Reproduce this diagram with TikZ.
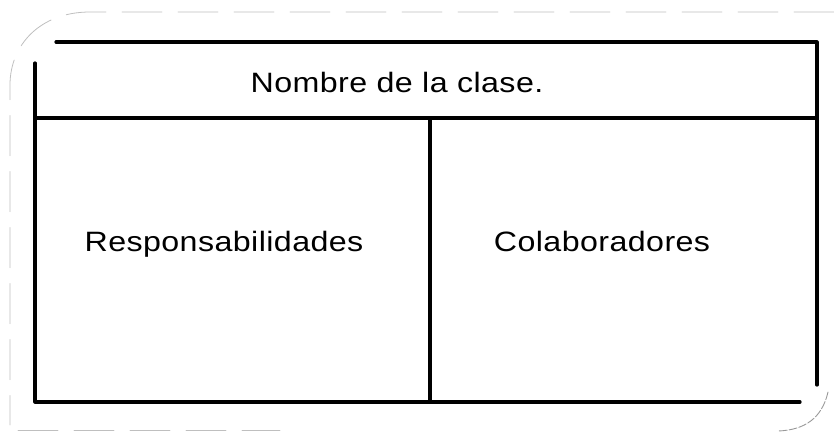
\documentclass[tikz,border=0pt]{standalone}
\usepackage{fontspec}
\setmainfont{Liberation Sans}[FakeStretch=1.15, LetterSpace=1.5]
\usetikzlibrary{positioning}

\tikzset{
  cardline/.style={line width=3.2pt},
  scanline/.style={gray!50, line width=0.8pt, dash pattern=on 40pt off 16pt},
  cardtext/.style={font=\fontsize{28}{30}\selectfont, anchor=base, inner sep=0pt}
}

\begin{document}
\begin{tikzpicture}[line cap=round,line join=round, x=1pt,y=-1pt]
\useasboundingbox (0,0) rectangle (834,432);
% faint outline of the scanned card
\draw [scanline] (834,12) -- (90,12) .. controls (40,12) and (10,45) .. (10,85) -- (10,425);
\draw [scanline] (18,430) -- (280,430);
\draw [gray!80, line width=0.9pt, dash pattern=on 8pt off 2pt] (828,392) .. controls (822,418) and (805,430) .. (778,431);
% the card
\coordinate (hl) at (35,118);
\coordinate (hr) at (817,118);
\coordinate (dt) at (430,118);
\coordinate (db) at (430,402);
\draw [cardline] (56,42) -- (817,42) -- (817,385);
\draw [cardline] (35,63) -- (35,402) -- (800,402);
\draw [cardline] (hl) -- (hr);
\draw [cardline] (dt) -- (db);
\node [cardtext] (nombre) at (397,92) {Nombre de la clase.};
\node [cardtext] (resp) at (224,251) {Responsabilidades};
\node [cardtext] (colab) at (602,251) {Colaboradores};
\end{tikzpicture}
\end{document}
